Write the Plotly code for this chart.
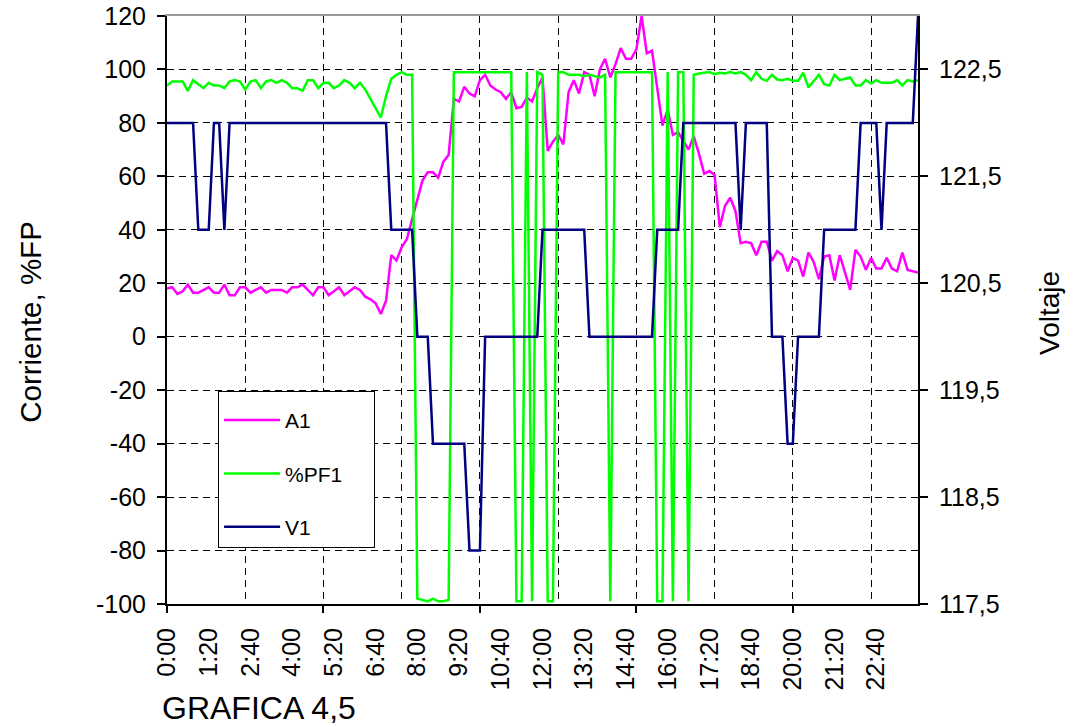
import plotly.graph_objects as go

# ---------------- data ----------------
# sample times: every 10 minutes from 0:00 to 24:00 (minutes)
minutes = list(range(0, 1441, 10))

a1 = [18, 18.5, 16, 17, 19.5, 16.5, 16.5, 17.5, 18.5, 16.5,
      16.5, 19.5, 15.5, 15.5, 18.5, 18.5, 16.5, 17.5, 18.5, 16.5,
      17.5, 17.5, 17.5, 16.5, 18.5, 18.5, 19.5, 17.5, 15.5, 18.5,
      18.5, 15.5, 17, 18.5, 15.5, 17, 18.5, 17.5, 15, 14,
      12.5, 8.5, 13.5, 30.5, 28.5, 33.5, 36.5, 44, 51, 58.5,
      61.5, 61.5, 59.5, 65.5, 68, 89, 88, 93.5, 91, 90,
      96, 98, 94, 92.5, 91.5, 89, 91.5, 85.5, 86, 89.5,
      88, 93, 97, 69.5, 73, 75.5, 72, 91.5, 96, 91,
      99, 98, 90, 100, 104, 97, 102, 108, 104, 104,
      107.5, 120, 106, 107, 93, 79, 85, 75.5, 76.5, 73.5,
      70, 75, 68.5, 61, 62, 60.5, 41, 49, 52, 47,
      35, 35.5, 35, 30.5, 35.5, 35.5, 28.5, 32, 30.5, 24.5,
      29.5, 28.5, 22.5, 31.5, 28, 21.5, 30, 30.5, 21, 30.5,
      23.5, 17.5, 32.5, 30, 25, 29.5, 25.5, 25.5, 29.5, 25.5,
      24.5, 31.5, 25, 24.5, 24]

pf1 = [94, 95.5, 95.5, 95.5, 92, 96, 94.5, 93, 95, 94,
       94, 93, 95.5, 96, 95.5, 92.5, 95.5, 96, 93, 95.5,
       96, 95, 96, 95, 93, 93, 92, 96, 96, 93,
       95, 95, 93, 94, 96, 95, 93, 95, 92.5, 89,
       85, 82, 90, 96.5, 98, 99, 98, 98, -98, -98.5,
       -99, -98, -99, -99, -98.5, 99, 99, 99, 99, 99,
       99, 99, 99, 99, 99, 99, 99, -99, -99, 99,
       -99, 99, 98, -99, -99, 99, 99, 98, 98, 98,
       97.5, 98, 97.5, 97, 98, -99, 99, 99, 99, 99,
       99, 99, 99, 99, -99, -99, 99, -99, 99, 99,
       -99, 98, 98.5, 98.75, 99, 98.25, 98.75, 98.5, 99, 98.5,
       99, 98, 96, 99, 96.5, 95.75, 98, 96.25, 96, 96.5,
       95.75, 95.75, 98.75, 93.25, 95.5, 98, 94.5, 94, 98, 96,
       96.5, 97, 94, 94, 96, 94.75, 96, 95, 95, 95,
       96, 94, 96, 95.5, 96]

v1 = [122, 122, 122, 122, 122, 122, 121, 121, 121, 122,
      122, 121, 122, 122, 122, 122, 122, 122, 122, 122,
      122, 122, 122, 122, 122, 122, 122, 122, 122, 122,
      122, 122, 122, 122, 122, 122, 122, 122, 122, 122,
      122, 122, 122, 121, 121, 121, 121, 121, 120, 120,
      120, 119, 119, 119, 119, 119, 119, 119, 118, 118,
      118, 120, 120, 120, 120, 120, 120, 120, 120, 120,
      120, 120, 121, 121, 121, 121, 121, 121, 121, 121,
      121, 120, 120, 120, 120, 120, 120, 120, 120, 120,
      120, 120, 120, 120, 121, 121, 121, 121, 121, 122,
      122, 122, 122, 122, 122, 122, 122, 122, 122, 122,
      121, 122, 122, 122, 122, 122, 120, 120, 120, 119,
      119, 120, 120, 120, 120, 120, 121, 121, 121, 121,
      121, 121, 121, 122, 122, 122, 122, 121, 122, 122,
      122, 122, 122, 122, 123]

x_label_vals = [0, 80, 160, 240, 320, 400, 480, 560, 640, 720, 800, 880,
                960, 1040, 1120, 1200, 1280, 1360]
x_label_text = ["0:00", "1:20", "2:40", "4:00", "5:20", "6:40", "8:00", "9:20",
                "10:40", "12:00", "13:20", "14:40", "16:00", "17:20", "18:40",
                "20:00", "21:20", "22:40"]
x_grid_vals = [150, 300, 450, 600, 750, 900, 1050, 1200, 1350]
x_tick_vals = [0, 300, 600, 900, 1200]

y1_vals = [-100, -80, -60, -40, -20, 0, 20, 40, 60, 80, 100, 120]
y1_text = ["-100", "-80", "-60", "-40", "-20", "0", "20", "40", "60", "80",
           "100", "120"]
y2_vals = [117.5, 118.5, 119.5, 120.5, 121.5, 122.5]
y2_text = ["117,5", "118,5", "119,5", "120,5", "121,5", "122,5"]

FONT = "Liberation Sans, Arial, sans-serif"
LW = 2.5

fig = go.Figure()
fig.add_trace(go.Scatter(x=minutes, y=a1, name="A1", mode="lines",
                         line=dict(color="#FF00FF", width=LW),
                         legendgroup="a"))
fig.add_trace(go.Scatter(x=minutes, y=pf1, name="%PF1", mode="lines",
                         line=dict(color="#00FF00", width=LW),
                         legendgroup="b"))
fig.add_trace(go.Scatter(x=minutes, y=v1, name="V1", mode="lines",
                         line=dict(color="#000080", width=LW),
                         yaxis="y2", legendgroup="c"))
# helper traces so that the overlay axes (grid / ticks / top border) are drawn
for ax in ["x3", "x4", "x5"]:
    fig.add_trace(go.Scatter(x=[0, 1440], y=[None, None], xaxis=ax, yaxis="y",
                             showlegend=False, hoverinfo="skip",
                             line=dict(width=0)))

fig.update_layout(
    width=1073, height=727, autosize=False,
    margin=dict(l=167, r=155, t=16, b=123, autoexpand=False),
    paper_bgcolor="white", plot_bgcolor="white",
    font=dict(family=FONT, color="black", size=25),
    showlegend=True,
    legend=dict(x=0.068, y=0.362, xanchor="left", yanchor="top",
                bgcolor="white", bordercolor="black", borderwidth=1,
                font=dict(size=21, family=FONT, color="black"),
                tracegroupgap=23, traceorder="grouped", itemwidth=56,
                title=dict(text="\u00a0" * 90, font=dict(size=6))),
    xaxis=dict(range=[0, 1440], tickmode="array", tickvals=x_label_vals,
               ticktext=x_label_text, tickangle=-90, ticks="",
               showgrid=False, zeroline=False, showline=True,
               linecolor="black", linewidth=2, automargin=False,
               tickfont=dict(size=25, family=FONT, color="black"),
               ticklabelstandoff=12),
    xaxis3=dict(range=[0, 1440], overlaying="x", anchor="y", side="bottom",
                tickmode="array", tickvals=x_grid_vals, showticklabels=False,
                ticks="", showgrid=True, gridcolor="black", gridwidth=1,
                griddash="7px,5px", zeroline=False, showline=False,
                automargin=False),
    xaxis4=dict(range=[0, 1440], overlaying="x", anchor="y", side="bottom",
                tickmode="array", tickvals=x_tick_vals, showticklabels=False,
                ticks="outside", ticklen=8, tickwidth=1.5, tickcolor="black",
                showgrid=False, zeroline=False, showline=False,
                automargin=False),
    xaxis5=dict(range=[0, 1440], overlaying="x", anchor="y", side="top",
                showticklabels=False, ticks="", showgrid=False,
                zeroline=False, showline=True, linecolor="#9a9a9a",
                linewidth=2, automargin=False),
    yaxis=dict(range=[-100, 120], tickmode="array", tickvals=y1_vals,
               ticktext=y1_text,
               ticks="outside", ticklen=8, tickwidth=1.5, tickcolor="black",
               showline=True, linecolor="black", linewidth=2,
               showgrid=True, gridcolor="black", gridwidth=1,
               griddash="7px,5px", zeroline=False, automargin=False,
               ticklabeloverflow="allow",
               tickfont=dict(size=25, family=FONT, color="black"),
               ticklabelstandoff=6),
    yaxis2=dict(range=[117.5, 123], overlaying="y", side="right", anchor="x",
                tickmode="array", tickvals=y2_vals, ticktext=y2_text,
                ticks="outside", ticklen=8, tickwidth=1.5, tickcolor="black",
                showline=True, linecolor="black", linewidth=2,
                showgrid=False, zeroline=False, automargin=False,
                ticklabeloverflow="allow",
                tickfont=dict(size=25, family=FONT, color="black"),
                ticklabelstandoff=6),
    annotations=[
        dict(text="Corriente, %FP", xref="paper", yref="paper",
             x=-0.181, y=0.48, xanchor="center", yanchor="middle",
             textangle=-90, showarrow=False,
             font=dict(size=29.5, family=FONT, color="black")),
        dict(text="Voltaje", xref="paper", yref="paper",
             x=1.1758, y=0.495, xanchor="center", yanchor="middle",
             textangle=-90, showarrow=False,
             font=dict(size=28, family=FONT, color="black")),
        dict(text="GRAFICA 4,5", xref="paper", yref="paper",
             x=-0.0093, y=-0.1769, xanchor="left", yanchor="middle",
             showarrow=False,
             font=dict(size=32, family=FONT, color="black")),
    ],
)

# remove the browser's default 8px page margin so the 1073x727 figure fills
# the window exactly
fig.write_html("out.html",
               config={"displayModeBar": False},
               post_script="document.body.style.margin='0';"
                           "document.body.style.overflow='hidden';")
